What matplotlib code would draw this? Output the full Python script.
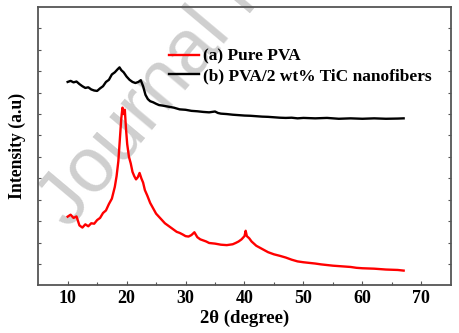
import matplotlib.pyplot as plt

# 2theta (degree) and intensity (a.u.)
x_a = [10.0, 10.5, 11.0, 11.5, 12.0, 12.5, 13.0, 13.5, 14.0, 14.5, 15.0, 15.5,
       16.0, 16.5, 17.0, 17.5, 18.0, 18.3, 18.6, 18.9, 19.1, 19.3, 19.5, 19.7,
       19.9, 20.1, 20.4, 20.7, 21.0, 21.3, 21.6, 21.9, 22.2, 22.5, 22.8, 23.1,
       23.5, 24.0, 24.5, 25.0, 25.5, 26.0, 26.5, 27.0, 27.5, 28.0, 28.5, 29.0,
       29.5, 30.0, 30.5, 31.0, 31.5, 32.0, 32.5, 33.0, 33.5, 34.0, 35.0, 36.0,
       37.0, 38.0, 38.5, 39.0, 39.5, 40.0, 40.2, 40.4, 40.8, 41.2, 42.0, 43.0,
       44.0, 45.0, 46.0, 47.0, 48.0, 49.0, 50.0, 51.0, 52.0, 53.0, 54.0, 55.0,
       56.0, 57.0, 58.0, 59.0, 60.0, 61.0, 62.0, 63.0, 64.0, 65.0, 66.0, 67.0]
pure_pva = [3.21, 3.30, 3.15, 3.22, 2.80, 2.70, 2.85, 2.76, 2.90, 2.88, 3.05, 3.15,
            3.38, 3.50, 3.80, 4.05, 4.60, 5.10, 5.80, 7.00, 7.80, 8.30, 8.00, 8.20,
            7.30, 6.60, 6.00, 5.70, 5.30, 5.10, 4.95, 5.05, 5.25, 5.00, 4.80, 4.45,
            4.20, 3.85, 3.60, 3.35, 3.20, 3.05, 2.90, 2.80, 2.70, 2.60, 2.50, 2.45,
            2.38, 2.30, 2.28, 2.35, 2.48, 2.25, 2.15, 2.10, 2.05, 1.98, 1.95, 1.90,
            1.88, 1.92, 1.98, 2.05, 2.15, 2.30, 2.55, 2.30, 2.20, 2.05, 1.85, 1.70,
            1.55, 1.45, 1.38, 1.30, 1.20, 1.12, 1.08, 1.05, 1.02, 0.98, 0.95, 0.92,
            0.90, 0.88, 0.86, 0.82, 0.80, 0.79, 0.78, 0.76, 0.74, 0.73, 0.72, 0.69]

x_b = [10.0, 10.5, 11.0, 11.5, 12.0, 12.5, 13.0, 13.5, 14.0, 14.5, 15.0, 15.5,
       16.0, 16.5, 17.0, 17.5, 18.0, 18.5, 18.8, 19.1, 19.5, 20.0, 20.5, 21.0,
       21.5, 22.0, 22.4, 22.8, 23.2, 23.6, 24.0, 24.5, 25.0, 25.5, 26.0, 27.0,
       28.0, 29.0, 30.0, 31.0, 32.0, 33.0, 34.0, 35.0, 35.5, 36.0, 37.0, 38.0,
       39.0, 40.0, 41.0, 42.0, 43.0, 44.0, 45.0, 46.0, 47.0, 48.0, 49.0, 50.0,
       52.0, 54.0, 56.0, 58.0, 60.0, 62.0, 64.0, 66.0, 67.0]
pva_tic = [9.50, 9.55, 9.48, 9.52, 9.40, 9.30, 9.22, 9.25, 9.15, 9.10, 9.08, 9.20,
           9.30, 9.50, 9.60, 9.85, 9.95, 10.10, 10.18, 10.05, 9.95, 9.75, 9.60, 9.50,
           9.45, 9.50, 9.58, 9.30, 8.90, 8.70, 8.60, 8.55, 8.48, 8.42, 8.40, 8.35,
           8.30, 8.22, 8.20, 8.15, 8.13, 8.10, 8.08, 8.12, 8.05, 8.02, 8.00, 7.97,
           7.95, 7.93, 7.92, 7.90, 7.88, 7.87, 7.85, 7.83, 7.82, 7.83, 7.80, 7.82,
           7.80, 7.82, 7.78, 7.80, 7.78, 7.80, 7.78, 7.79, 7.80]

plt.rcParams['font.family'] = ['Liberation Serif', 'DejaVu Serif']
plt.rcParams['font.weight'] = 'bold'

fig = plt.figure(figsize=(4.6, 3.33), dpi=100)
ax = fig.add_axes([0.083, 0.143, 0.897, 0.836])

# watermark
ax.text(0.15, 0.31, 'Journal Pre-proof', transform=fig.transFigure, rotation=50,
        rotation_mode='anchor', ha='left', va='baseline', fontsize=56,
        family='Liberation Sans', weight='normal', color='#cfcfcf', zorder=0.5,
        clip_on=False)

ax.plot(x_a, pure_pva, color='#ff0000', lw=1.7, label='(a) Pure PVA', zorder=2)
ax.plot(x_b, pva_tic, color='black', lw=1.7, label='(b) PVA/2 wt% TiC nanofibers', zorder=2)

ax.set_xlim(5, 75)
ax.set_ylim(0, 13)
ax.set_xticks([10, 20, 30, 40, 50, 60, 70])
ax.set_xticks([15, 25, 35, 45, 55, 65], minor=True)
ax.set_yticks(range(1, 13))
ax.set_yticklabels([])
ax.tick_params(axis='both', which='both', direction='in', color='#555555', width=0.8)
ax.tick_params(axis='x', which='major', length=3, labelsize=13, pad=3)
ax.tick_params(axis='x', which='minor', length=2)
ax.tick_params(axis='y', length=2, right=True)
for s in ax.spines.values():
    s.set_color('#555555')
    s.set_linewidth(1.3)

ax.set_xlabel('2θ (degree)', fontsize=13.5, fontweight='bold', labelpad=2)
ax.set_ylabel('Intensity (a.u)', fontsize=12.7, fontweight='bold', labelpad=5)

ax.legend(loc='upper left', bbox_to_anchor=(0.3, 0.875), frameon=False,
          fontsize=12.5, handlelength=1.75, handletextpad=0.2, labelspacing=0.2,
          borderaxespad=0)

fig.savefig('out.png', dpi=100)
